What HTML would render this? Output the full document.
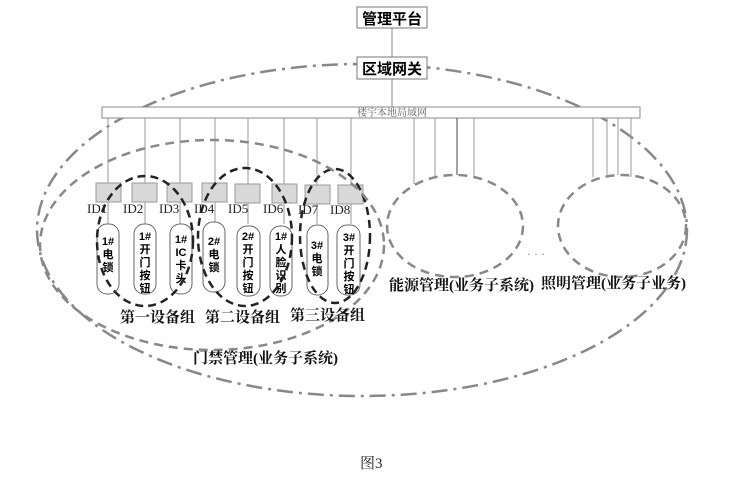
<!DOCTYPE html>
<html><head><meta charset="utf-8"><style>
body{margin:0;background:#fff;}
svg{display:block;font-family:"Liberation Serif","Noto Serif CJK SC",serif;}
.b{font-weight:bold;}
</style></head><body>
<svg width="746" height="487" viewBox="0 0 746 487" xmlns="http://www.w3.org/2000/svg">
<ellipse cx="362" cy="230" rx="325" ry="166" fill="none" stroke="#888" stroke-width="2.5" stroke-dasharray="16,6,3,6"/>
<line x1="392" y1="28" x2="392" y2="107" stroke="#888" stroke-width="1"/>
<rect x="357" y="7" width="70" height="21" fill="#fff" stroke="#777"/>
<text x="392" y="24" font-size="15" class="b" text-anchor="middle" font-family="Liberation Sans,Noto Sans CJK SC,sans-serif">管理平台</text>
<rect x="357" y="57" width="70" height="22" fill="#fff" stroke="#777"/>
<text x="392" y="74" font-size="15" class="b" text-anchor="middle" font-family="Liberation Sans,Noto Sans CJK SC,sans-serif">区域网关</text>
<rect x="102" y="107" width="538" height="11" fill="#fff" stroke="#888"/>
<text x="392" y="116" font-size="10" fill="#666" text-anchor="middle">楼宇本地局域网</text>
<g stroke="#999" stroke-width="1">
<line x1="108" y1="118" x2="108" y2="224"/><line x1="145" y1="118" x2="145" y2="224"/>
<line x1="180" y1="118" x2="180" y2="224"/><line x1="215" y1="118" x2="215" y2="224"/>
<line x1="248" y1="118" x2="248" y2="224"/><line x1="284" y1="118" x2="284" y2="224"/>
<line x1="317" y1="118" x2="317" y2="224"/><line x1="351" y1="118" x2="351" y2="224"/>
<line x1="414" y1="118" x2="414" y2="184"/><line x1="435" y1="118" x2="435" y2="177"/>
<line x1="457" y1="118" x2="457" y2="175" stroke="#444"/><line x1="474" y1="118" x2="474" y2="177"/>
<line x1="593" y1="118" x2="593" y2="177"/><line x1="607" y1="118" x2="607" y2="175"/>
<line x1="618" y1="118" x2="618" y2="175"/><line x1="631" y1="118" x2="631" y2="177"/>
</g>
<g fill="#d8d8d8" stroke="#999">
<rect x="96" y="183" width="25" height="19"/><rect x="132" y="183" width="25" height="19"/>
<rect x="167" y="183" width="25" height="19"/><rect x="202" y="183" width="25" height="19"/>
<rect x="235" y="184" width="25" height="19"/><rect x="272" y="184" width="25" height="19"/>
<rect x="305" y="185" width="25" height="19"/><rect x="338" y="185" width="25" height="19"/>
</g>
<g font-size="13" fill="#222">
<text x="87" y="213">ID1</text><text x="123" y="213">ID2</text><text x="159" y="213">ID3</text>
<text x="194" y="213">ID4</text><text x="228" y="213">ID5</text><text x="263" y="213">ID6</text>
<text x="298" y="214">ID7</text><text x="330" y="214">ID8</text>
</g>
<g fill="#fff" stroke="#666">
<rect x="97" y="224" width="22" height="70" rx="10"/><rect x="134" y="224" width="22" height="70" rx="10"/>
<rect x="170" y="224" width="22" height="70" rx="10"/><rect x="203" y="222" width="22" height="70" rx="10"/>
<rect x="237" y="226" width="23" height="70" rx="10"/><rect x="270" y="226" width="22" height="70" rx="10"/>
<rect x="307" y="225" width="21" height="70" rx="10"/><rect x="337" y="225" width="23" height="70" rx="10"/>
</g>
<g font-size="11" class="b" text-anchor="middle" font-family="Liberation Sans,Noto Sans CJK SC,sans-serif">
<text x="108" y="245">1#</text><text x="108" y="258">电</text><text x="108" y="271">锁</text>
<text x="145" y="240">1#</text><text x="145" y="253">开</text><text x="145" y="266">门</text><text x="145" y="279">按</text><text x="145" y="292">钮</text>
<text x="181" y="243">1#</text><text x="181" y="256">IC</text><text x="181" y="269">卡</text><text x="181" y="282">头</text>
<text x="214" y="245">2#</text><text x="214" y="258">电</text><text x="214" y="271">锁</text>
<text x="248" y="240">2#</text><text x="248" y="253">开</text><text x="248" y="266">门</text><text x="248" y="279">按</text><text x="248" y="292">钮</text>
<text x="281" y="240">1#</text><text x="281" y="253">人</text><text x="281" y="266">脸</text><text x="281" y="279">识</text><text x="281" y="292">别</text>
<text x="317" y="249">3#</text><text x="317" y="262">电</text><text x="317" y="275">锁</text>
<text x="349" y="241">3#</text><text x="349" y="254">开</text><text x="349" y="267">门</text><text x="349" y="280">按</text><text x="349" y="293">钮</text>
</g>
<g fill="none" stroke="#222" stroke-width="2.5" stroke-dasharray="8,5">
<ellipse cx="145" cy="241" rx="48" ry="65"/>
<ellipse cx="245" cy="237" rx="47" ry="69"/>
<ellipse cx="335" cy="236" rx="35" ry="67"/>
</g>
<ellipse cx="212" cy="245" rx="172" ry="105" fill="none" stroke="#888" stroke-width="2.5" stroke-dasharray="9,6"/>
<ellipse cx="455" cy="226" rx="68" ry="51" fill="none" stroke="#888" stroke-width="2.5" stroke-dasharray="9,6"/>
<ellipse cx="622" cy="226" rx="64" ry="51" fill="none" stroke="#888" stroke-width="2.5" stroke-dasharray="9,6"/>
<text x="527" y="258" font-size="12" fill="#777">· · ·</text>
<g font-size="15" class="b" fill="#111">
<text x="120" y="322">第一设备组</text><text x="205" y="322">第二设备组</text><text x="290" y="320">第三设备组</text>
<text x="193" y="363">门禁管理(业务子系统)</text>
<text x="389" y="290">能源管理(业务子系统)</text>
<text x="541" y="288">照明管理(业务子业务)</text>
</g>
<text x="360" y="468" font-size="15" fill="#222">图3</text>
</svg>
</body></html>
